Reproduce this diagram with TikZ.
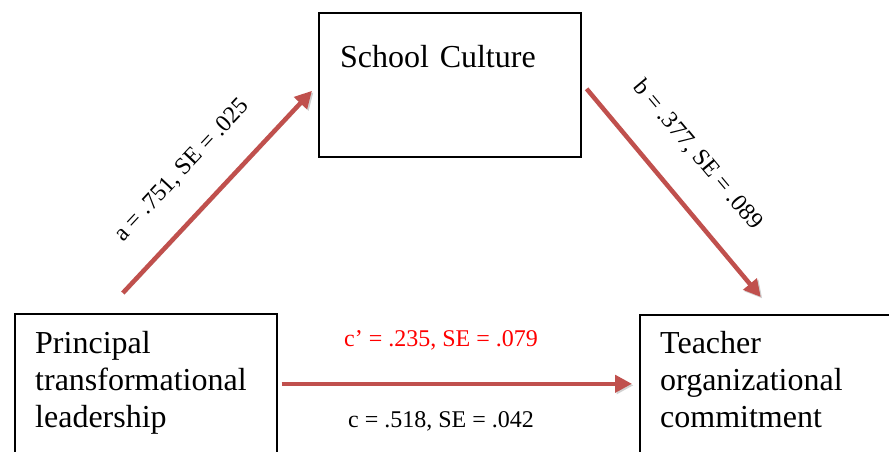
\documentclass[tikz,border=0pt]{standalone}
\usepackage{fontspec}
\setmainfont{Liberation Serif}
\usepackage{tikz}
\usetikzlibrary{arrows.meta,positioning}
\definecolor{pathred}{RGB}{192,80,77}
\definecolor{coefred}{RGB}{255,0,0}
\tikzstyle{varbox}=[rectangle, draw=black, line width=1.6pt, anchor=north west, inner sep=0pt]
\tikzstyle{vartext}=[anchor=base west, inner sep=0pt, text width=250pt, align=left, font=\fontsize{32}{37}\selectfont]
\tikzstyle{effect}=[draw=pathred, line width=4.5pt, -{Triangle[length=17pt,width=17pt]}, preaction={draw=black!18, transform canvas={shift={(1.5pt,-1.5pt)}}}]
\tikzstyle{coef}=[font=\fontsize{24}{28}\selectfont, sloped]

\begin{document}
\begin{tikzpicture}[x=1pt,y=-1pt]
\useasboundingbox (0,0) rectangle (889,452);
\clip (0,0) rectangle (889,452);

%Boxes
\node[varbox, minimum width=262pt, minimum height=144pt] (cult) at (318,12) {};
\node[vartext] (culttxt) at ([xshift=22pt,yshift=-55pt]cult.north west) {School Culture};
\node[varbox, minimum width=262pt, minimum height=170pt] (lead) at (14,313) {};
\node[vartext] (leadtxt) at ([xshift=21pt,yshift=-40pt]lead.north west) {Principal\\transformational\\leadership};
\node[varbox, minimum width=262pt, minimum height=170pt] (comm) at (639,314) {};
\node[vartext] (commtxt) at ([xshift=21pt,yshift=-39pt]comm.north west) {Teacher\\organizational\\commitment};

%Paths
\draw[effect] ([xshift=-23pt,yshift=20pt]lead.north) -- ([xshift=-6pt,yshift=-6pt]cult.west)
  node[coef, pos=0.47, above=25pt] (alab) {a = .751, SE = .025};
\draw[effect] ([xshift=5pt,yshift=-4pt]cult.east) -- ([xshift=-10pt,yshift=17pt]comm.north)
  node[coef, pos=0.45, above=27pt] (blab) {b = .377, SE = .089};
\draw[effect] ([xshift=4pt,yshift=15pt]lead.east) -- ([xshift=-7pt,yshift=16pt]comm.west)
  node[coef, pos=0.455, above=28pt, text=coefred] (cplab) {c’ = .235, SE = .079}
  node[coef, pos=0.455, below=22pt] (clab) {c = .518, SE = .042};

\end{tikzpicture}
\end{document}
